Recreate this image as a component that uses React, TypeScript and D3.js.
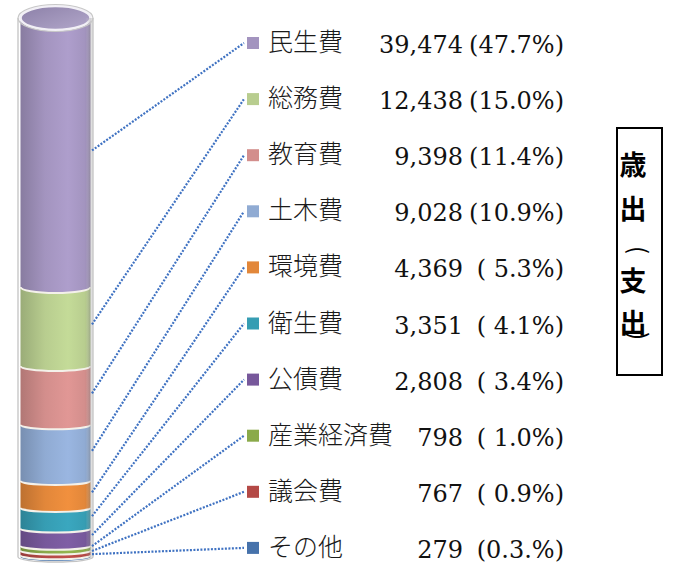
import React from 'react';
import * as d3 from 'd3';

const categories = ['民生費', '総務費', '教育費', '土木費', '環境費', '衛生費', '公債費', '産業経済費', '議会費', 'その他'];
const values = [39474, 12438, 9398, 9028, 4369, 3351, 2808, 798, 767, 279];
const percentLabels = ['(47.7%)', '(15.0%)', '(11.4%)', '(10.9%)', '( 5.3%)', '( 4.1%)', '( 3.4%)', '( 1.0%)', '( 0.9%)', '(0.3.%)'];
const colors = ['#a394bf', '#b8cd8f', '#d38e8c', '#90abd3', '#e2873a', '#369db3', '#77589b', '#8aaa4a', '#b44946', '#4672ab'];
const titleChars = ['歳', '出', '(', '支', '出', ')'];
const titleY = [163, 207, 250, 279, 321, 336];

const W = 675;
const H = 566;
const cx = 55.5;
const rx = 35;
const Rx = 37.5;
const yTopC = 18;
const yBotC = 557;
const rowY0 = 43;
const rowStep = 56.1;
const markerX = 247;
const markerSize = 12;
const lineStartX = 92;
const lineEndX = 244;

export default function App() {
  const total = d3.sum(values);
  const y = d3.scalePow().exponent(0.94).domain([0, total]).range([yTopC, yBotC]);
  const ryAt = (yy: number) => {
    const t = (yy - yTopC) / (yBotC - yTopC);
    return 4 + 8.5 * (1 - t) * (1 - t);
  };
  const cum: number[] = [];
  let acc = 0;
  values.forEach((v) => {
    cum.push(acc);
    acc += v;
  });
  const rowY = d3.scaleLinear().domain([0, 1]).range([rowY0, rowY0 + rowStep]);
  const fmt = d3.format(',');

  const segPath = (y0: number, y1: number) => {
    const r0 = ryAt(y0);
    const r1 = ryAt(y1);
    return `M${cx - rx},${y0} A${rx},${r0} 0 0 0 ${cx + rx},${y0} L${cx + rx},${y1} A${rx},${r1} 0 0 1 ${cx - rx},${y1} Z`;
  };
  const arcPath = (yy: number, r: number, rr: number) =>
    `M${cx - r},${yy} A${r},${rr} 0 0 0 ${cx + r},${yy}`;

  return (
    <svg width={W} height={H} style={{ position: 'absolute', left: 0, top: 0, background: '#fff' }}>
      <defs>
        {colors.map((c, i) => {
          const base = d3.color(c)!;
          return (
            <linearGradient key={i} id={`g${i}`} x1="0" x2="1" y1="0" y2="0">
              <stop offset="0" stopColor={base.darker(0.5).formatHex()} />
              <stop offset="0.35" stopColor={base.formatHex()} />
              <stop offset="0.68" stopColor={base.brighter(0.18).formatHex()} />
              <stop offset="0.92" stopColor={base.formatHex()} />
              <stop offset="1" stopColor={base.darker(0.4).formatHex()} />
            </linearGradient>
          );
        })}
        <linearGradient id="topface" x1="0" x2="1" y1="0" y2="1">
          <stop offset="0" stopColor="#8c80a8" />
          <stop offset="1" stopColor="#b3a8cb" />
        </linearGradient>
        <linearGradient id="shell" x1="0" x2="1" y1="0" y2="0">
          <stop offset="0" stopColor="#ffffff" stopOpacity="0" />
          <stop offset="0.9" stopColor="#ffffff" stopOpacity="0" />
          <stop offset="0.96" stopColor="#9a9a9a" stopOpacity="0.35" />
          <stop offset="1" stopColor="#dcdcdc" stopOpacity="0.6" />
        </linearGradient>
      </defs>

      {/* segments */}
      {values.map((v, i) => {
        const y0 = y(cum[i]);
        const y1 = y(cum[i] + v);
        return <path key={`s${i}`} d={segPath(y0, y1)} fill={`url(#g${i})`} />;
      })}
      {/* boundaries */}
      {values.map((v, i) =>
        i === 0 ? null : (
          <path
            key={`b${i}`}
            d={arcPath(y(cum[i]), rx, ryAt(y(cum[i])))}
            fill="none"
            stroke="#f4f1ea"
            strokeWidth={2}
          />
        )
      )}
      {/* top face */}
      <ellipse cx={cx} cy={yTopC} rx={rx} ry={ryAt(yTopC) - 0.5} fill="url(#topface)" stroke="#f2f0f6" strokeWidth={2.5} />
      {/* shell */}
      <path
        d={`M${cx - Rx},${yTopC} L${cx - Rx},${yBotC} A${Rx},${ryAt(yBotC) + 1} 0 0 0 ${cx + Rx},${yBotC} L${cx + Rx},${yTopC}`}
        fill="url(#shell)"
        stroke="#c4c4c4"
        strokeWidth={1.3}
      />
      <ellipse cx={cx} cy={yTopC} rx={Rx} ry={ryAt(yTopC) + 1} fill="none" stroke="#c8c8c8" strokeWidth={1.2} />

      {/* leader lines */}
      {values.map((v, i) => (
        <line
          key={`l${i}`}
          x1={lineStartX}
          y1={(y(cum[i]) + y(cum[i] + v)) / 2 - 2}
          x2={lineEndX}
          y2={rowY(i)}
          stroke="#3f72c2"
          strokeWidth={2.2}
          strokeDasharray="2 1.5"
        />
      ))}

      {/* legend */}
      {categories.map((c, i) => (
        <g key={`r${i}`}>
          <rect x={markerX} y={rowY(i) - markerSize / 2} width={markerSize} height={markerSize} fill={colors[i]} />
          <text x={268} y={rowY(i) + 8} fontFamily="'Noto Sans CJK JP'" fontWeight={300} fontSize={25} fill="#1a1a1a">
            {c}
          </text>
          <text x={463} y={rowY(i) + 10} textAnchor="end" fontFamily="'DejaVu Serif'" fontSize={24} fill="#111">
            {fmt(values[i])}
          </text>
          <text
            x={564}
            y={rowY(i) + 10}
            textAnchor="end"
            fontFamily="'DejaVu Serif'"
            fontSize={24}
            fill="#111"
            style={{ whiteSpace: 'pre' }}
          >
            {percentLabels[i]}
          </text>
        </g>
      ))}

      {/* vertical title */}
      <rect x={617} y={128} width={45} height={247} fill="#fff" stroke="#000" strokeWidth={2} />
      {titleChars.map((ch, i) => {
        const isParen = ch === '(' || ch === ')';
        return (
          <text
            key={`t${i}`}
            x={isParen ? 0 : 633}
            y={isParen ? 0 : titleY[i]}
            transform={isParen ? `translate(${640},${titleY[i]}) rotate(90)` : undefined}
            textAnchor="middle"
            dominantBaseline="central"
            fontFamily="'Noto Sans CJK JP'"
            fontWeight={isParen ? 'normal' : 'bold'}
            fontSize={isParen ? 24 : 27}
            fill="#000"
          >
            {ch}
          </text>
        );
      })}
    </svg>
  );
}
